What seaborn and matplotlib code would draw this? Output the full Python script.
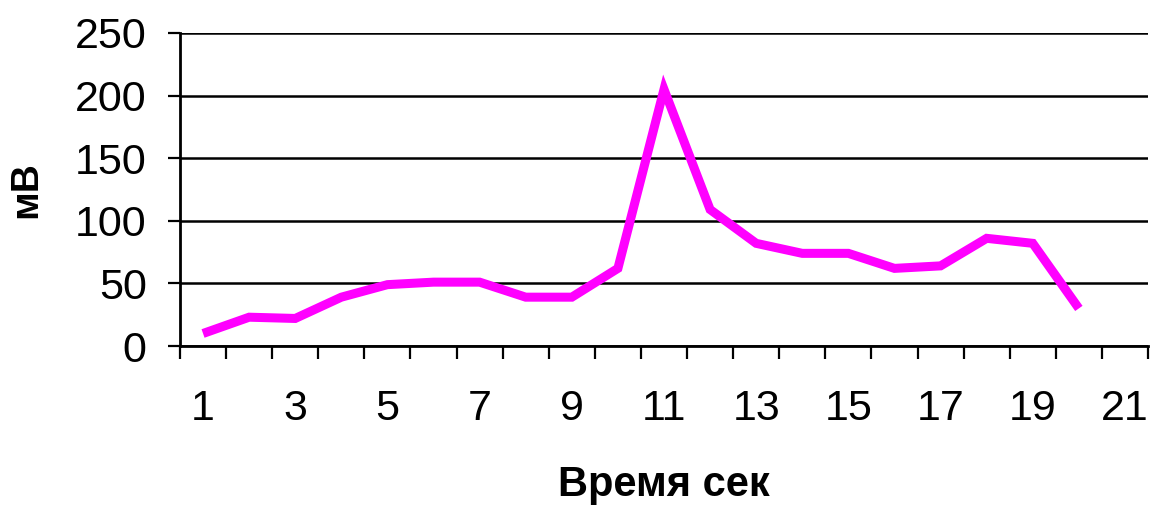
import matplotlib
matplotlib.use("Agg")
import matplotlib.pyplot as plt
import seaborn as sns
import pandas as pd
from matplotlib.ticker import FixedLocator

# values
seconds = [1, 2, 3, 4, 5, 6, 7, 8, 9, 10, 11, 12, 13, 14, 15, 16, 17, 18, 19, 20]
millivolts = [10, 23, 22, 39, 49, 51, 51, 39, 39, 62, 205, 109, 82, 74, 74, 62, 64, 86, 82, 30]
x_tick_labels = ["1", "3", "5", "7", "9", "11", "13", "15", "17", "19", "21"]
y_ticks = [0, 50, 100, 150, 200, 250]


def main():
    sns.set_style("white")
    plt.rcParams["font.family"] = ["Liberation Sans", "DejaVu Sans"]
    plt.rcParams["text.color"] = "black"
    plt.rcParams["axes.labelcolor"] = "black"
    plt.rcParams["xtick.color"] = "black"
    plt.rcParams["ytick.color"] = "black"

    df = pd.DataFrame({"sec": seconds, "mv": millivolts})

    fig = plt.figure(figsize=(11.51, 5.07), dpi=100)
    ax = fig.add_axes([180 / 1151, 1 - 346 / 507, (1148 - 180) / 1151, (346 - 33) / 507])

    sns.lineplot(data=df, x="sec", y="mv", ax=ax, color="#FF00FF", linewidth=6.5,
                 solid_capstyle="butt", solid_joinstyle="miter", zorder=3)

    ax.set_xlim(0.5, 21.5)
    ax.set_ylim(0, 250)

    # category-style x axis: labels on odd categories, tick marks between categories
    ax.xaxis.set_major_locator(FixedLocator([int(s) for s in x_tick_labels]))
    ax.set_xticklabels(x_tick_labels)
    ax.xaxis.set_minor_locator(FixedLocator([i + 0.5 for i in range(0, 22)]))
    ax.tick_params(axis="x", which="major", length=0, pad=31, labelsize=31)
    ax.tick_params(axis="x", which="minor", length=9, width=1.6, color="black",
                   direction="out", bottom=True)

    ax.set_yticks(y_ticks)
    ax.tick_params(axis="y", which="major", length=9, width=1.6, color="black",
                   direction="out", left=True, pad=15, labelsize=31)

    ax.grid(axis="y", color="black", linewidth=1.8)
    ax.grid(axis="x", visible=False)
    ax.set_axisbelow(True)

    for side in ["top", "right"]:
        ax.spines[side].set_visible(False)
    for side in ["left", "bottom"]:
        ax.spines[side].set_color("black")
        ax.spines[side].set_linewidth(2)

    ax.set_xlabel("Время сек", fontsize=30, fontweight="bold", labelpad=26)
    ax.set_ylabel("мВ", fontsize=28, fontweight="bold", labelpad=22)

    fig.savefig("out.png", dpi=100)
    plt.close(fig)


if __name__ == "__main__":
    main()
